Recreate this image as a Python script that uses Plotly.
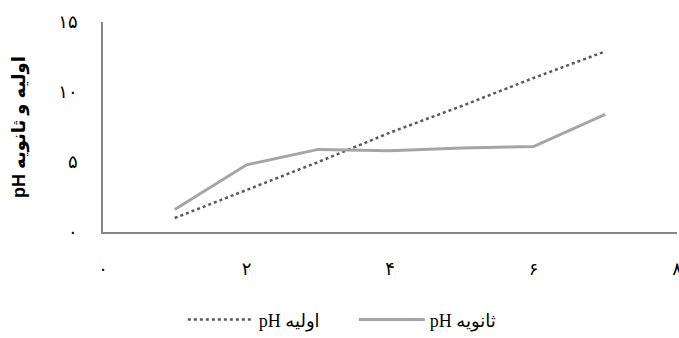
import plotly.graph_objects as go

# data
x_vals = [1, 2, 3, 4, 5, 6, 7]
ph_primary = [1.0, 3.0, 5.0, 7.1, 9.0, 11.0, 12.9]     # pH اولیه
ph_secondary = [1.6, 4.8, 5.9, 5.8, 6.0, 6.1, 8.4]     # pH ثانویه

x_ticks = [0, 2, 4, 6, 8]
x_tick_text = ['۰', '۲', '۴', '۶', '۸']
y_ticks = [0, 5, 10, 15]
y_tick_text = ['۰', '۵', '۱۰', '۱۵']

fig = go.Figure()

fig.add_trace(go.Scatter(
    x=x_vals,
    y=ph_primary,
    name='pH اولیه',
    mode='lines',
    line=dict(color='#595959', width=2.5, dash='dot'),
))

fig.add_trace(go.Scatter(
    x=x_vals,
    y=ph_secondary,
    name='pH ثانویه',
    mode='lines',
    line=dict(color='#A5A5A5', width=3),
))

fig.update_layout(
    template='none',
    width=679,
    height=338,
    margin=dict(l=103, r=2, t=22, b=106, autoexpand=False),
    paper_bgcolor='white',
    plot_bgcolor='white',
    font=dict(family='DejaVu Sans', size=18, color='black'),
    showlegend=True,
    legend=dict(
        orientation='h',
        x=0.437, xanchor='center',
        y=-0.33, yanchor='top',
        font=dict(family='Liberation Serif, DejaVu Sans', size=18),
        itemwidth=66,
        entrywidth=90,
    ),
    xaxis=dict(
        range=[0, 8],
        tickvals=x_ticks,
        ticktext=x_tick_text,
        showgrid=False,
        zeroline=False,
        showline=True,
        linecolor='#868686',
        linewidth=1.5,
        ticks='',
        ticklabelstandoff=20,
        ticklabeloverflow='allow',
        automargin=False,
    ),
    yaxis=dict(
        range=[0, 15],
        tickvals=y_ticks,
        ticktext=y_tick_text,
        showgrid=False,
        zeroline=False,
        showline=True,
        linecolor='#868686',
        linewidth=1.5,
        ticks='',
        ticklabelstandoff=20,
        automargin=False,
        title=dict(
            text='<b>pH اولیه و ثانویه</b>',
            font=dict(family='Liberation Sans, DejaVu Sans', size=18),
            standoff=28,
        ),
    ),
)

fig.write_html(
    'out.html',
    config={'displayModeBar': False},
    post_script="document.body.style.margin='0';",
)
